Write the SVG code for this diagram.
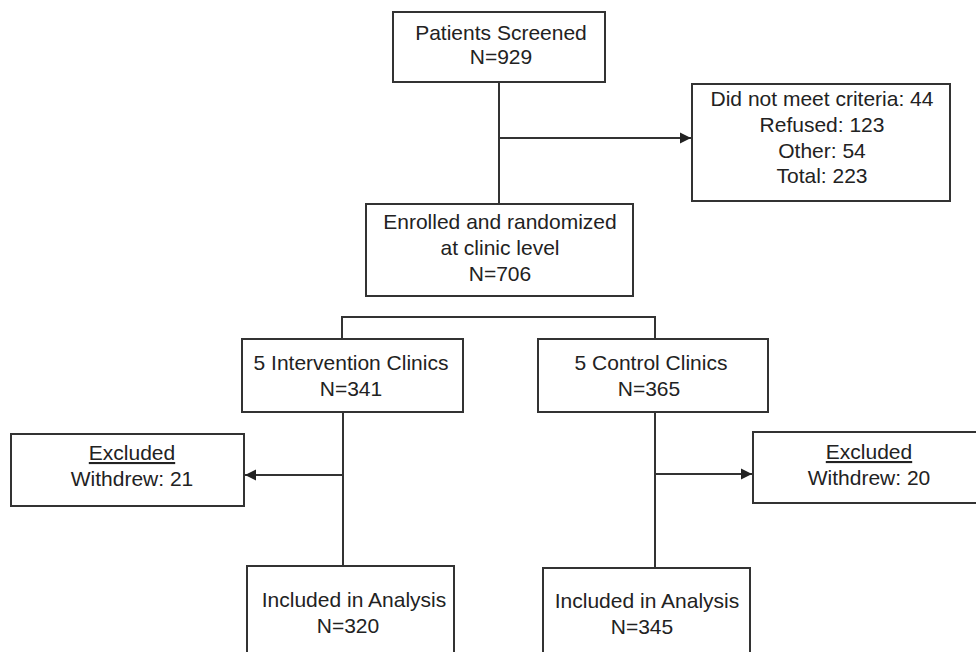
<svg xmlns="http://www.w3.org/2000/svg" width="976" height="652" viewBox="0 0 976 652">
<defs>
<style>
.box{fill:#fff;stroke:#333;stroke-width:2}
.ln{fill:none;stroke:#333;stroke-width:2}
text{font-family:"Liberation Sans",Arial,sans-serif;font-size:21px;fill:#222;text-anchor:middle}
.u{text-decoration:underline}
</style>
<marker id="ah" markerUnits="userSpaceOnUse" markerWidth="12" markerHeight="12" viewBox="0 0 12 12" refX="11" refY="6" orient="auto">
<path d="M0,0.5 L11,6 L0,11.5 Z" fill="#222"/>
</marker>
</defs>
<rect width="976" height="652" fill="#fff"/>
<g id="connectors">
<line class="ln" x1="499" y1="82" x2="499" y2="204"/>
<line class="ln" x1="499" y1="138" x2="691" y2="138" marker-end="url(#ah)"/>
<polyline class="ln" points="342,339 342,317 655,317 655,339"/>
<line class="ln" x1="343" y1="412" x2="343" y2="566"/>
<line class="ln" x1="343" y1="475" x2="245" y2="475" marker-end="url(#ah)"/>
<line class="ln" x1="655" y1="412" x2="655" y2="568"/>
<line class="ln" x1="655" y1="474" x2="752" y2="474" marker-end="url(#ah)"/>
</g>
<g id="screened">
<rect class="box" x="393" y="12" width="212" height="70"/>
<text x="501" y="40">Patients Screened</text>
<text x="501" y="64">N=929</text>
</g>
<g id="not-eligible">
<rect class="box" x="692" y="84" width="258" height="117"/>
<text x="822" y="106">Did not meet criteria: 44</text>
<text x="822" y="131.5">Refused: 123</text>
<text x="822" y="157.5">Other: 54</text>
<text x="822" y="183">Total: 223</text>
</g>
<g id="enrolled">
<rect class="box" x="366" y="204" width="267" height="92"/>
<text x="500" y="229">Enrolled and randomized</text>
<text x="500" y="255">at clinic level</text>
<text x="500" y="281">N=706</text>
</g>
<g id="intervention">
<rect class="box" x="242" y="339" width="221" height="73"/>
<text x="351" y="370">5 Intervention Clinics</text>
<text x="351" y="396">N=341</text>
</g>
<g id="control">
<rect class="box" x="538" y="339" width="230" height="73"/>
<text x="651" y="370">5 Control Clinics</text>
<text x="649" y="396">N=365</text>
</g>
<g id="excluded-left">
<rect class="box" x="11" y="434" width="233" height="72"/>
<text class="u" x="132" y="460">Excluded</text>
<text x="132" y="485.5">Withdrew: 21</text>
</g>
<g id="excluded-right">
<rect class="box" x="753" y="432" width="231" height="71"/>
<text class="u" x="869" y="459">Excluded</text>
<text x="869" y="484.5">Withdrew: 20</text>
</g>
<g id="included-left">
<rect class="box" x="247" y="566" width="207" height="100"/>
<text x="354" y="607">Included in Analysis</text>
<text x="348" y="633">N=320</text>
</g>
<g id="included-right">
<rect class="box" x="543" y="568" width="207" height="100"/>
<text x="647" y="608">Included in Analysis</text>
<text x="642" y="634">N=345</text>
</g>
</svg>
